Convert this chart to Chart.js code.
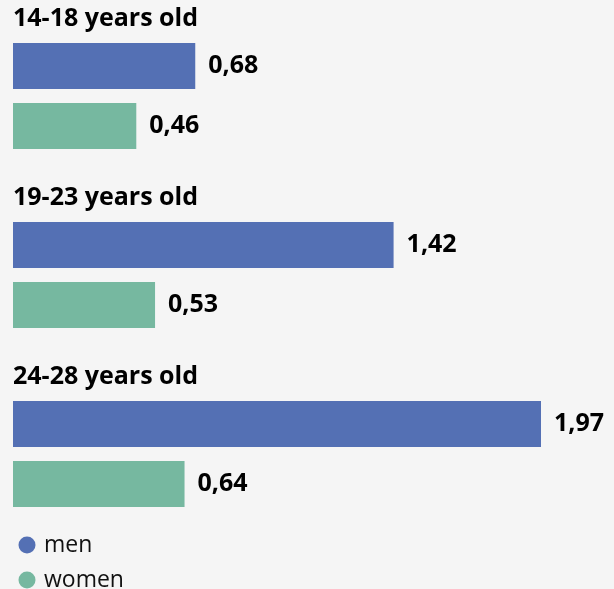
<!DOCTYPE html>
<html>
<head>
<meta charset="utf-8">
<title>Values by age group</title>
<script src="https://cdn.jsdelivr.net/npm/chart.js@4/dist/chart.umd.min.js"></script>
<style>
    html, body { margin: 0; padding: 0; background: #f5f5f5; overflow: hidden; }
    #chart { display: block; }
</style>
</head>
<body>
<canvas id="chart" width="614" height="589"></canvas>
<script>
// Chart data
const categories = ['14-18 years old', '19-23 years old', '24-28 years old'];
const seriesNames = ['men', 'women'];
const menValues = [0.68, 1.42, 1.97];
const womenValues = [0.46, 0.53, 0.64];

const COLORS = ['#5470b4', '#76b8a0'];
const FONT = '"Open Sans", "Noto Sans", sans-serif';

/**
 * Format a value with a decimal comma
 */
function formatValue(v) {
    return v.toFixed(2).replace('.', ',');
}

// Draws group titles, value labels and the legend
const labelsPlugin = {
    id: 'labels',
    afterDatasetsDraw(chart) {
        const ctx = chart.ctx;
        const yScale = chart.scales.y;
        const area = chart.chartArea;
        const band = (area.bottom - area.top) / categories.length;

        ctx.save();
        ctx.fillStyle = '#000';
        ctx.textBaseline = 'middle';
        ctx.textAlign = 'left';

        // group titles above each pair of bars
        ctx.font = 'bold 25px ' + FONT;
        categories.forEach((cat, i) => {
            const top = yScale.getPixelForValue(i) - band / 2;
            ctx.fillText(cat, area.left, top + 12);
        });

        // value labels at the end of each bar
        ctx.font = 'bold 25px ' + FONT;
        chart.data.datasets.forEach((ds, di) => {
            const meta = chart.getDatasetMeta(di);
            meta.data.forEach((bar, i) => {
                ctx.fillText(formatValue(ds.data[i]), bar.x + 13, bar.y);
            });
        });

        // legend, one entry per row
        ctx.font = '23px ' + FONT;
        seriesNames.forEach((name, i) => {
            const cy = 545 + i * 35;
            ctx.fillStyle = COLORS[i];
            ctx.beginPath();
            ctx.arc(27, cy, 8.5, 0, Math.PI * 2);
            ctx.fill();
            ctx.fillStyle = '#111';
            ctx.fillText(name, 44, cy);
        });
        ctx.restore();
    }
};

new Chart(document.getElementById('chart'), {
    type: 'bar',
    data: {
        labels: categories,
        datasets: [
            { label: seriesNames[0], data: menValues, backgroundColor: COLORS[0] },
            { label: seriesNames[1], data: womenValues, backgroundColor: COLORS[1] }
        ]
    },
    options: {
        indexAxis: 'y',
        responsive: false,
        animation: false,
        categoryPercentage: 0.67,
        barPercentage: 0.767,
        layout: {
            padding: { left: 13, right: 73, top: 6.5, bottom: 45.5 }
        },
        plugins: {
            legend: { display: false },
            tooltip: { enabled: false }
        },
        scales: {
            x: { display: false, min: 0, max: 1.97 },
            y: { display: false }
        }
    },
    plugins: [labelsPlugin]
});
</script>
</body>
</html>
